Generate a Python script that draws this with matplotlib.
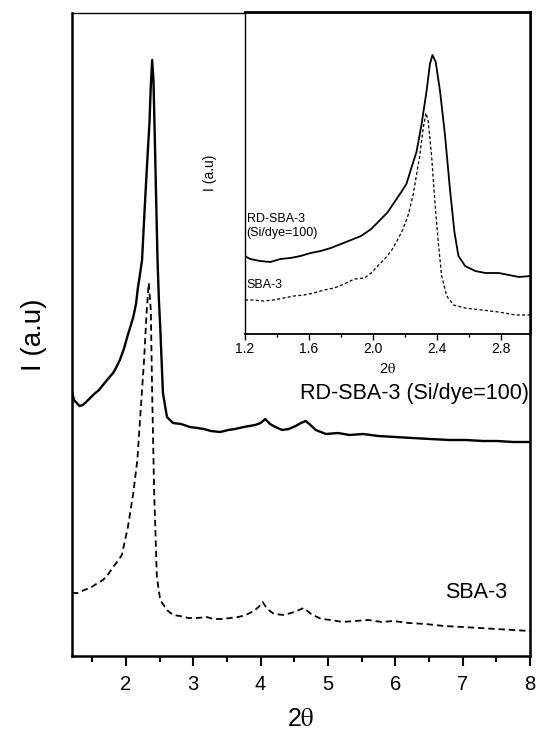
import matplotlib
matplotlib.use("Agg")
import matplotlib.pyplot as plt
from matplotlib.ticker import MultipleLocator

plt.rcParams['font.family'] = ['Liberation Sans', 'DejaVu Sans']
plt.rcParams['mathtext.fontset'] = 'stix'

# ---- main panel data (2theta, intensity a.u.) ----
rd_x = [1.20, 1.23, 1.27, 1.31, 1.36, 1.41, 1.47, 1.53, 1.60, 1.66, 1.72, 1.81, 1.86, 1.91,
        1.97, 2.02, 2.07, 2.11, 2.15, 2.18, 2.21, 2.24, 2.28, 2.32, 2.35, 2.37, 2.39, 2.41,
        2.43, 2.45, 2.47, 2.49, 2.51, 2.55, 2.61, 2.70, 2.82, 2.95, 3.06, 3.16, 3.26, 3.40,
        3.52, 3.62, 3.75, 3.92, 4.00, 4.07, 4.14, 4.22, 4.32, 4.42, 4.52, 4.60, 4.67, 4.74,
        4.82, 4.97, 5.15, 5.32, 5.52, 5.75, 6.00, 6.25, 6.52, 6.80, 7.05, 7.30, 7.51, 7.75, 8.00]
rd_y = [264, 256, 253, 250, 251, 254, 258, 262, 266, 271, 276, 283, 289, 296,
        307, 319, 330, 339, 352, 369, 382, 396, 449, 498, 533, 570, 596, 575,
        516, 455, 396, 356, 329, 263, 239, 233, 232, 229, 228, 227, 225, 224,
        226, 227, 229, 231, 233, 237, 232, 229, 226, 227, 230, 233, 235, 231,
        226, 222, 223, 221, 222, 220, 219, 218, 217, 216, 216, 215, 215, 214, 214]

sba_x = [1.20, 1.29, 1.38, 1.47, 1.56, 1.66, 1.74, 1.81, 1.88, 1.94, 2.03, 2.11, 2.17,
         2.22, 2.27, 2.31, 2.34, 2.37, 2.39, 2.42, 2.46, 2.51, 2.61, 2.70, 2.80, 2.93,
         3.06, 3.20, 3.30, 3.43, 3.55, 3.67, 3.78, 3.90, 3.97, 4.03, 4.10, 4.20, 4.35,
         4.50, 4.64, 4.75, 4.90, 5.05, 5.21, 5.40, 5.60, 5.80, 5.97, 6.20, 6.45, 6.72,
         7.00, 7.25, 7.50, 7.75, 8.00]
sba_y = [63, 63, 66, 68, 72, 76, 82, 89, 95, 101, 129, 163, 196,
         246, 296, 346, 373, 346, 263, 163, 79, 56, 46, 41, 40, 38,
         38, 39, 37, 37, 38, 39, 41, 45, 49, 54, 47, 42, 41,
         44, 48, 42, 37, 36, 34, 35, 36, 34, 35, 33, 32, 30,
         29, 28, 27, 26, 25]

# ---- inset data (2theta, intensity a.u.) ----
in_rd_x = [1.200, 1.232, 1.295, 1.358, 1.421, 1.484, 1.547, 1.610, 1.673, 1.736, 1.799,
           1.862, 1.925, 1.988, 2.050, 2.092, 2.134, 2.176, 2.208, 2.239, 2.271, 2.302,
           2.334, 2.355, 2.371, 2.391, 2.418, 2.449, 2.480, 2.508, 2.533, 2.575, 2.638,
           2.701, 2.785, 2.848, 2.911, 2.984]
in_rd_y = [78, 75, 73, 72, 75, 76, 78, 81, 83, 86, 90,
           94, 98, 105, 115, 122, 132, 142, 150, 166, 182, 209,
           243, 270, 279, 272, 243, 199, 145, 102, 78, 68, 63,
           61, 61, 59, 57, 58]

in_sba_x = [1.200, 1.254, 1.316, 1.379, 1.442, 1.505, 1.568, 1.631, 1.694, 1.757, 1.820,
            1.883, 1.946, 1.988, 2.029, 2.072, 2.113, 2.156, 2.187, 2.219, 2.250, 2.271,
            2.292, 2.313, 2.330, 2.344, 2.365, 2.386, 2.407, 2.428, 2.460, 2.502, 2.575,
            2.680, 2.785, 2.890, 2.984]
in_sba_y = [34, 34, 33, 34, 36, 38, 39, 41, 44, 46, 50,
            55, 56, 61, 68, 75, 83, 95, 105, 119, 139, 159,
            179, 206, 221, 213, 179, 132, 92, 58, 38, 29, 26,
            24, 22, 19, 19]

main_xticks = [2, 3, 4, 5, 6, 7, 8]
inset_xticks = [1.2, 1.6, 2.0, 2.4, 2.8]
inset_xticklabels = ['1.2', '1.6', '2.0', '2.4', '2.8']

W, H = 536, 733
fig = plt.figure(figsize=(W / 100, H / 100), dpi=100)

# main axes
ax = fig.add_axes([72 / W, 1 - 656 / H, (530 - 72) / W, (656 - 13) / H])
ax.plot(rd_x, rd_y, color='black', lw=1.7, solid_joinstyle='round')
ax.plot(sba_x, sba_y, color='black', lw=1.3, dashes=(3.5, 2.2))
ax.set_xlim(1.2, 8.0)
ax.set_ylim(0, 643)
ax.set_yticks([])
ax.set_xticks(main_xticks)
ax.xaxis.set_minor_locator(MultipleLocator(0.5))
ax.tick_params(axis='x', which='major', direction='out', length=7, width=1.5,
               labelsize=14.5, pad=7)
ax.tick_params(axis='x', which='minor', direction='out', length=4, width=1.5)
for s in ['left', 'bottom', 'right']:
    ax.spines[s].set_linewidth(1.8)
ax.spines['top'].set_linewidth(1.0)
ax.set_xlabel(r'2$\mathrm{\theta}$', fontsize=18, labelpad=9)
ax.set_ylabel('I (a.u)', fontsize=20, labelpad=18)
ax.text(7.99, 262, 'RD-SBA-3 (Si/dye=100)', fontsize=15.5, ha='right', va='center')
ax.text(7.66, 63, 'SBA-3', fontsize=15.5, ha='right', va='center')

# inset axes
ai = fig.add_axes([245 / W, 1 - 334 / H, (530 - 245) / W, (334 - 12) / H])
ai.set_facecolor('white')
ai.plot(in_rd_x, in_rd_y, color='black', lw=1.3)
ai.plot(in_sba_x, in_sba_y, color='black', lw=0.9, dashes=(2.5, 1.8))
ai.set_xlim(1.2, 2.98)
ai.set_ylim(0, 322)
ai.set_yticks([])
ai.set_xticks(inset_xticks)
ai.set_xticklabels(inset_xticklabels)
ai.xaxis.set_minor_locator(MultipleLocator(0.2))
ai.tick_params(axis='x', which='major', direction='out', length=4, width=1.0,
               labelsize=10, pad=2)
ai.tick_params(axis='x', which='minor', direction='out', length=2.5, width=1.0)
ai.spines['top'].set_linewidth(2.0)
ai.spines['bottom'].set_linewidth(1.3)
ai.spines['left'].set_linewidth(1.0)
ai.spines['right'].set_linewidth(1.8)
ai.set_xlabel(r'2$\mathrm{\theta}$', fontsize=10.5, labelpad=4)
ai.set_ylabel('I (a.u)', fontsize=10, labelpad=20)
ai.text(1.21, 108, 'RD-SBA-3\n(Si/dye=100)', fontsize=9, ha='left', va='center',
        linespacing=1.15)
ai.text(1.21, 49, 'SBA-3', fontsize=9, ha='left', va='center')

fig.savefig('out.png', dpi=100)
